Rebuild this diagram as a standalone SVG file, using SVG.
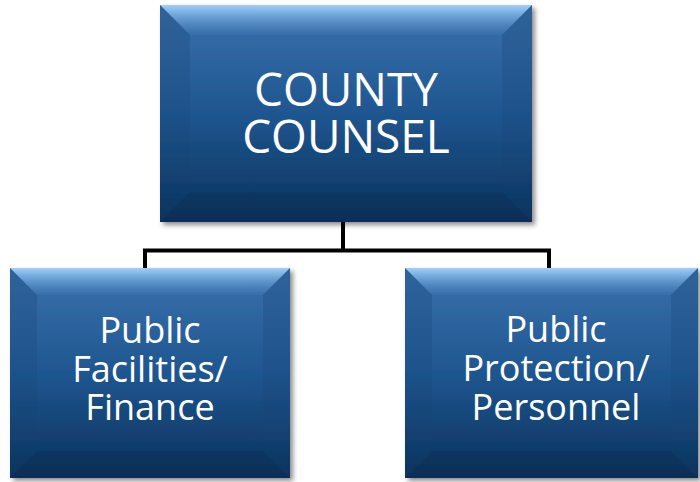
<svg xmlns="http://www.w3.org/2000/svg" width="700" height="482" viewBox="0 0 700 482">
<style>
.lbl{font-family:"Open Sans","Noto Sans","Liberation Sans",sans-serif;fill:#ffffff;text-anchor:middle}
.conn{stroke:#000;stroke-width:4;fill:none}
.top{fill:url(#gTop)}
.side{fill:url(#gSide)}
.bot{fill:#000;fill-opacity:0.07}
</style>
<defs>
<linearGradient id="gBody" x1="0" y1="0" x2="0" y2="1">
<stop offset="0" stop-color="#3a72ad"/>
<stop offset="0.5" stop-color="#1f5690"/>
<stop offset="1" stop-color="#0a325c"/>
</linearGradient>
<linearGradient id="gTop" x1="0" y1="0" x2="0" y2="1">
<stop offset="0" stop-color="#a6d6ff" stop-opacity="0.95"/>
<stop offset="1" stop-color="#5e98d2" stop-opacity="0.1"/>
</linearGradient>
<linearGradient id="gSide" x1="0" y1="0" x2="0" y2="1">
<stop offset="0" stop-color="#143e6c" stop-opacity="0.3"/>
<stop offset="1" stop-color="#143e6c" stop-opacity="0.05"/>
</linearGradient>
<filter id="sh" x="-10%" y="-10%" width="120%" height="125%">
<feDropShadow dx="3" dy="3" stdDeviation="2.5" flood-color="#000" flood-opacity="0.45"/>
</filter>
</defs>
<rect width="700" height="482" fill="#ffffff"/>
<g id="connectors">
<path class="conn" d="M343 222 V250.5 M145 250.5 H551 M145 248.5 V268 M549 248.5 V268"/>
</g>
<g id="county-counsel">
<rect x="160" y="5" width="372" height="217" fill="url(#gBody)" filter="url(#sh)"/>
<polygon class="top" points="160,5 532,5 502,35 190,35"/>
<polygon class="side" points="160,5 190,35 190,192 160,222"/>
<polygon class="side" points="532,5 502,35 502,192 532,222"/>
<polygon class="bot" points="160,222 190,192 502,192 532,222"/>
<text class="lbl" x="346" y="106" font-size="46">COUNTY</text>
<text class="lbl" x="346" y="153" font-size="46">COUNSEL</text>
</g>
<g id="public-facilities-finance">
<rect x="10" y="268" width="280" height="210" fill="url(#gBody)" filter="url(#sh)"/>
<polygon class="top" points="10,268 290,268 263,295 37,295"/>
<polygon class="side" points="10,268 37,295 37,451 10,478"/>
<polygon class="side" points="290,268 263,295 263,451 290,478"/>
<polygon class="bot" points="10,478 37,451 263,451 290,478"/>
<text class="lbl" x="150" y="343" font-size="36">Public</text>
<text class="lbl" x="150" y="382" font-size="36">Facilities/</text>
<text class="lbl" x="150" y="420" font-size="36">Finance</text>
</g>
<g id="public-protection-personnel">
<rect x="405" y="268" width="293" height="210" fill="url(#gBody)" filter="url(#sh)"/>
<polygon class="top" points="405,268 698,268 671,295 432,295"/>
<polygon class="side" points="405,268 432,295 432,451 405,478"/>
<polygon class="side" points="698,268 671,295 671,451 698,478"/>
<polygon class="bot" points="405,478 432,451 671,451 698,478"/>
<text class="lbl" x="556" y="342" font-size="36">Public</text>
<text class="lbl" x="556" y="381" font-size="36">Protection/</text>
<text class="lbl" x="556" y="420" font-size="36">Personnel</text>
</g>
</svg>
